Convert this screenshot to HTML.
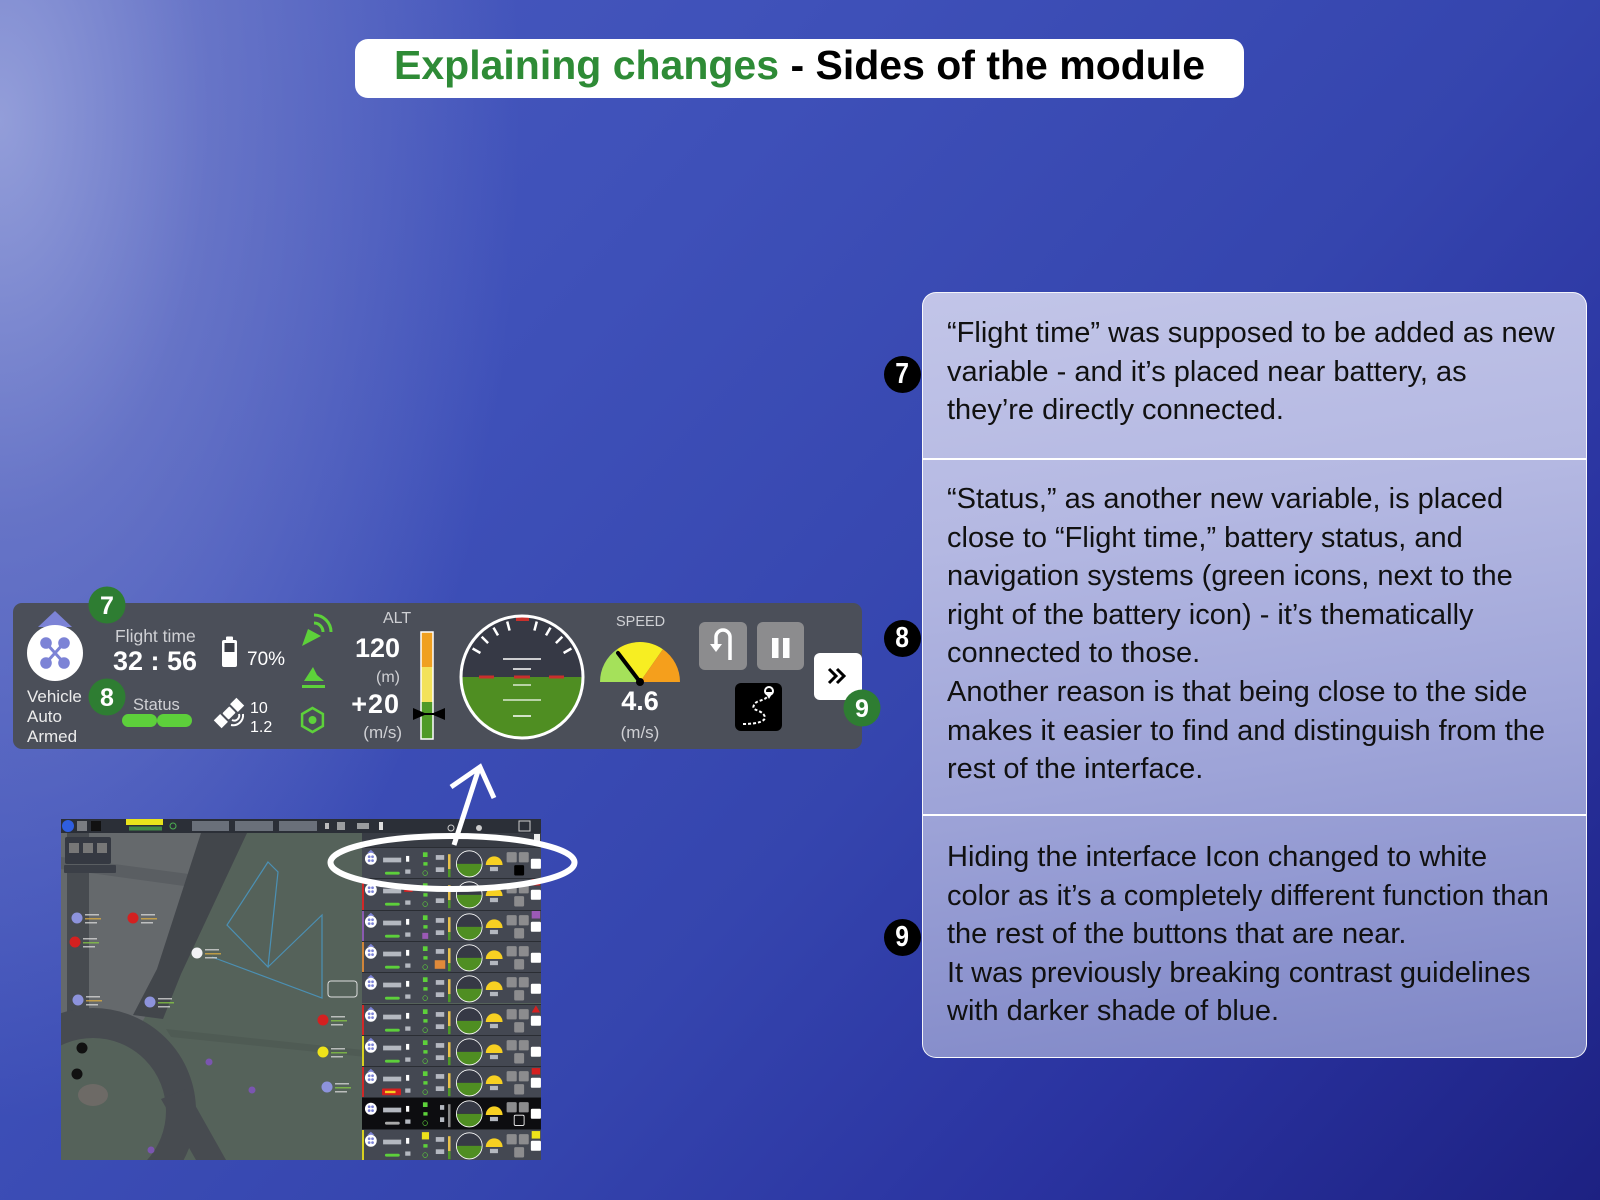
<!DOCTYPE html>
<html><head><meta charset="utf-8">
<style>
*{margin:0;padding:0;box-sizing:border-box}
html,body{width:1600px;height:1200px;overflow:hidden}
body{position:relative;font-family:"Liberation Sans",Arial,sans-serif;
background:
radial-gradient(ellipse 520px 1000px at 0px 120px, rgba(155,165,220,0.9) 0%, rgba(125,136,206,0.6) 40%, rgba(80,95,190,0) 100%),
linear-gradient(132deg,#4a5bbf 0%,#3f51b9 30%,#3545ae 58%,#2a33a0 78%,#1d2182 100%);}
.title{position:absolute;left:355px;top:39px;width:889px;height:59px;background:#fff;border-radius:13px}
.title div{position:absolute;left:39px;top:6px;font-size:41px;line-height:41px;font-weight:bold;white-space:nowrap;color:#000}
.title .g{color:#2e8b36}
.panel{position:absolute;left:922px;top:292px;width:665px;height:766px;border-radius:14px;border:1.5px solid rgba(255,255,255,.9);
background:linear-gradient(172deg,#c2c5e8 0%,#b4b8e2 30%,#9ea4d8 60%,#7e86c6 100%);overflow:hidden}
.div{position:absolute;left:0;width:100%;height:2px;background:#fff}
.txt{position:absolute;left:947px;font-size:29px;line-height:38.6px;color:#111;white-space:pre}
.bb{position:absolute;width:37px;height:37px;border-radius:50%;background:#000;color:#fff;font-weight:bold;font-size:29px;line-height:37px;text-align:center}
.bb span{display:inline-block;transform:scaleX(.85)}
.dash{position:absolute;left:13px;top:603px;overflow:visible}
.map{position:absolute;left:61px;top:819px;width:480px;height:341px;overflow:hidden}
.row{position:absolute;left:301px;width:179px;height:31.3px;overflow:hidden;border-top:1px solid #2a2d33}
.row .m{position:absolute;left:0;top:0;width:849px;height:146px;transform:scale(0.2108,0.2144);transform-origin:0 0}
.row .s{position:absolute;left:0;top:0;width:2px;height:100%}
.row rect[fill="#eee"],.row rect[fill="#ddd"]{fill:#b4b8c0}
</style></head>
<body>

<div class="title"><div><span class="g">Explaining changes</span> - Sides of the module</div></div>

<div class="panel">
  <div class="div" style="top:165px"></div>
  <div class="div" style="top:521px"></div>
</div>

<div class="txt" style="top:314px">“Flight time” was supposed to be added as new
variable - and it’s placed near battery, as
they’re directly connected.</div>

<div class="txt" style="top:480px">“Status,” as another new variable, is placed
close to “Flight time,” battery status, and
navigation systems (green icons, next to the
right of the battery icon) - it’s thematically
connected to those.
Another reason is that being close to the side
makes it easier to find and distinguish from the
rest of the interface.</div>

<div class="txt" style="top:838px">Hiding the interface Icon changed to white
color as it’s a completely different function than
the rest of the buttons that are near.
It was previously breaking contrast guidelines
with darker shade of blue.</div>

<div class="bb" style="left:883.5px;top:356px"><span>7</span></div>
<div class="bb" style="left:883.5px;top:619.5px"><span>8</span></div>
<div class="bb" style="left:883.5px;top:919px"><span>9</span></div>

<!-- MAIN DASHBOARD -->
<svg class="dash" width="849" height="146" viewBox="0 0 849 146" overflow="visible">
<rect width="849" height="146" rx="9" fill="#4b4f59"/>
<polygon points="42,8 25,24 59,24" fill="#7c83d6"/>
<circle cx="42" cy="50" r="28" fill="#fff"/>
<path d="M33,40L51,60M51,40L33,60" stroke="#7c83d6" stroke-width="3"/>
<g fill="#7c83d6"><circle cx="33" cy="40" r="5.8"/><circle cx="51" cy="40" r="5.8"/><circle cx="33" cy="60" r="5.8"/><circle cx="51" cy="60" r="5.8"/></g>
<g font-family="Liberation Sans, Arial, sans-serif">
<text x="14" y="99" font-size="17" fill="#ececec">Vehicle</text>
<text x="14" y="119" font-size="17" fill="#ececec">Auto</text>
<text x="14" y="139" font-size="17" fill="#ececec">Armed</text>
<text x="102" y="39" font-size="17.5" fill="#cfd0d4">Flight time</text>
<text x="100" y="67" font-size="27" font-weight="bold" fill="#fff">32 : 56</text>
<text x="234" y="62" font-size="19" fill="#fff">70%</text>
<text x="120" y="107" font-size="16.5" fill="#cfd0d4">Status</text>
<text x="237" y="110" font-size="16" fill="#fff">10</text>
<text x="237" y="129" font-size="16" fill="#fff">1.2</text>
<text x="370" y="20" font-size="16" fill="#cfd0d4">ALT</text>
<text x="387" y="54" text-anchor="end" font-size="27" font-weight="bold" fill="#fff">120</text>
<text x="387" y="79" text-anchor="end" font-size="16" fill="#cfd0d4">(m)</text>
<text x="387" y="110" text-anchor="end" font-size="27" font-weight="bold" fill="#fff" letter-spacing="1">+20</text>
<text x="389" y="135" text-anchor="end" font-size="17" fill="#cfd0d4">(m/s)</text>
<text x="603" y="23" font-size="14.5" fill="#cfd0d4">SPEED</text>
<text x="627" y="107" text-anchor="middle" font-size="27" font-weight="bold" fill="#fff">4.6</text>
<text x="627" y="135" text-anchor="middle" font-size="17" fill="#cfd0d4">(m/s)</text>
</g>
<rect x="109" y="111" width="35" height="13" rx="6.5" fill="#5dcf3b"/><rect x="144" y="111" width="35" height="13" rx="6.5" fill="#5dcf3b"/>
<rect x="209" y="37" width="15" height="27" rx="2" fill="#fff"/><rect x="211.5" y="40" width="10" height="9" fill="#3a3d46"/><rect x="213" y="33.5" width="7" height="4" rx="1" fill="#fff"/>
<g transform="translate(216,110) rotate(45)" fill="#fff"><rect x="-4.5" y="-5" width="9" height="10" rx="1"/><rect x="-5.5" y="-16" width="11" height="9"/><rect x="-5.5" y="7" width="11" height="9"/></g>
<path d="M219,117 a5,5 0 0 0 7,-6 M218,122 a10,10 0 0 0 12,-11" stroke="#fff" stroke-width="2" fill="none"/>
<polygon points="289,43 295,26 308,33" fill="#5dd13a"/>
<path d="M301,20 a9,9 0 0 1 9,9 M301,12 a17,17 0 0 1 17,17" stroke="#5dd13a" stroke-width="3" fill="none"/>
<polygon points="291,78 300,64 304,72 311,78" fill="#5dd13a"/><rect x="289" y="82" width="23" height="3" fill="#5dd13a"/>
<polygon points="299.5,105 309.9,111 309.9,123 299.5,129 289.1,123 289.1,111" fill="none" stroke="#5dd13a" stroke-width="2.5"/><circle cx="299.5" cy="117" r="4" fill="#5dd13a"/>
<rect x="408" y="29" width="12" height="35" fill="#f0a020"/><rect x="408" y="64" width="12" height="35" fill="#f3e25a"/><rect x="408" y="99" width="12" height="37" fill="#4f9a27"/>
<rect x="408" y="29" width="12" height="107" fill="none" stroke="#fff" stroke-width="1.5"/>
<polygon points="400,105 414,111 400,117" fill="#000"/><polygon points="432,105 418,111 432,117" fill="#000"/><rect x="400" y="110" width="32" height="2" fill="#000"/>
<path d="M448,74 A61,61 0 0 1 570,74 Z" fill="#363945"/><path d="M448,74 A61,61 0 0 0 570,74 Z" fill="#4f8e22"/>
<g stroke="#fff" stroke-width="1.6"><line x1="490" y1="56" x2="528" y2="56"/><line x1="500" y1="66" x2="518" y2="66"/><line x1="500" y1="82" x2="518" y2="82" stroke-opacity=".8"/><line x1="490" y1="97" x2="528" y2="97" stroke-opacity=".8"/><line x1="500" y1="113" x2="518" y2="113"/></g>
<g stroke="#fff" stroke-width="2.5"><line x1="521.4" y1="27.6" x2="523.8" y2="18.5"/><line x1="496.6" y1="27.6" x2="494.2" y2="18.5"/><line x1="533" y1="32.4" x2="537.5" y2="24.6"/><line x1="485" y1="32.4" x2="480.5" y2="24.6"/><line x1="542.9" y1="40.1" x2="549.3" y2="33.7"/><line x1="475.1" y1="40.1" x2="468.7" y2="33.7"/><line x1="550.6" y1="50" x2="558.4" y2="45.5"/><line x1="467.4" y1="50" x2="459.6" y2="45.5"/></g>
<g fill="#c9302c"><rect x="466" y="72.5" width="15" height="3"/><rect x="501" y="72.5" width="16" height="3"/><rect x="536" y="72.5" width="15" height="3"/><rect x="503" y="14" width="13" height="4"/></g>
<circle cx="509" cy="74" r="61" fill="none" stroke="#fff" stroke-width="3"/>
<path d="M627,79 L587,79 A40,40 0 0 1 604.1,46.2 Z" fill="#a5e15a"/>
<path d="M627,79 L604.1,46.2 A40,40 0 0 1 649.9,46.2 Z" fill="#f7ee22"/>
<path d="M627,79 L649.9,46.2 A40,40 0 0 1 667,79 Z" fill="#f59f1c"/>
<line x1="627" y1="79" x2="605" y2="50" stroke="#000" stroke-width="4" stroke-linecap="round"/><circle cx="627" cy="79" r="4" fill="#000"/>
<rect x="686" y="19" width="48" height="48" rx="6" fill="#8c8c8e"/>
<path d="M717,57 L717,34 A7,7 0 0 0 703,34 L703,43" stroke="#fff" stroke-width="3.5" fill="none"/><polygon points="697,41 709,41 703,49" fill="#fff"/>
<rect x="744" y="19" width="47" height="48" rx="6" fill="#8c8c8e"/>
<rect x="759" y="35" width="6.5" height="20" fill="#fff"/><rect x="770" y="35" width="6.5" height="20" fill="#fff"/>
<rect x="722" y="80" width="47" height="48" rx="6" fill="#000"/>
<path d="M730,121 C745,121 755,118 751,112 C747,106 738,108 741,102 C743,97 751,98 754,94" stroke="#fff" stroke-width="2" stroke-dasharray="3,2" fill="none"/>
<circle cx="756" cy="88" r="4" fill="none" stroke="#fff" stroke-width="2"/><polygon points="752,89 760,89 756,96" fill="#fff"/>
<rect x="801" y="50" width="48" height="47" rx="6" fill="#fff"/>
<path d="M816,66 L823,73 L816,80 M824,66 L831,73 L824,80" stroke="#000" stroke-width="3" fill="none"/>
<g font-family="Liberation Sans, Arial, sans-serif" font-weight="bold" font-size="25" fill="#fff" text-anchor="middle">
<circle cx="94" cy="2" r="18.5" fill="#2e7d32"/><text x="94" y="11">7</text>
<circle cx="94" cy="94" r="18.5" fill="#2e7d32"/><text x="94" y="103">8</text>
<circle cx="849" cy="105" r="18.5" fill="#2e7d32"/><text x="849" y="114">9</text>
</g>
</svg>

<!-- MAP SCREENSHOT -->
<div class="map">
<svg width="480" height="341" style="position:absolute;left:0;top:0">
<rect width="480" height="341" fill="#55625a"/>
<polygon points="0,14 180,14 140,80 100,170 80,205 0,210" fill="#65696c"/>
<rect x="6" y="14" width="22" height="190" fill="#474b50"/>
<polygon points="0,38 150,58 145,70 0,50" fill="#5a5e62"/>
<polygon points="140,14 186,14 120,155 102,200 72,196 96,150" fill="#42464b"/>
<circle cx="32" cy="292" r="88" fill="none" stroke="#474b50" stroke-width="30"/>
<ellipse cx="32" cy="276" rx="15" ry="11" fill="#6d6a66"/>
<polygon points="100,280 125,270 165,341 135,341" fill="#474b50"/>
<polygon points="105,210 480,250 480,256 110,218" fill="#4f5b54"/>
<g fill="none" stroke="#4b90b4" stroke-width="1.2">
<polygon points="207,43 217,53 207,148 166,106"/>
<polyline points="207,148 261,96 261,179 151,138"/>
</g>
<circle cx="16" cy="99" r="5.5" fill="#8d93dc"/><circle cx="72" cy="99" r="5.5" fill="#d42020"/><circle cx="14" cy="123" r="5.5" fill="#d42020"/>
<circle cx="136" cy="134" r="5.5" fill="#f2f2f5"/><circle cx="17" cy="181" r="5.5" fill="#8d93dc"/><circle cx="89" cy="183" r="5.5" fill="#8d93dc"/>
<circle cx="21" cy="229" r="5.5" fill="#111"/><circle cx="16" cy="255" r="5.5" fill="#111"/><circle cx="262" cy="201" r="5.5" fill="#d42020"/>
<circle cx="262" cy="233" r="5.5" fill="#eee31a"/><circle cx="266" cy="268" r="5.5" fill="#8d93dc"/>
<g fill="#ddd" opacity=".75">
<rect x="24" y="95" width="14" height="1.5"/><rect x="24" y="99" width="16" height="1.5" fill="#e0b040"/><rect x="24" y="103" width="12" height="1.5"/>
<rect x="80" y="95" width="14" height="1.5"/><rect x="80" y="99" width="16" height="1.5" fill="#e0b040"/><rect x="80" y="103" width="12" height="1.5"/>
<rect x="22" y="119" width="14" height="1.5"/><rect x="22" y="123" width="16" height="1.5" fill="#8c4"/><rect x="22" y="127" width="12" height="1.5"/>
<rect x="144" y="130" width="14" height="1.5"/><rect x="144" y="134" width="16" height="1.5" fill="#e0b040"/><rect x="144" y="138" width="12" height="1.5"/>
<rect x="25" y="177" width="14" height="1.5"/><rect x="25" y="181" width="16" height="1.5" fill="#e0b040"/><rect x="25" y="185" width="12" height="1.5"/>
<rect x="97" y="179" width="14" height="1.5"/><rect x="97" y="183" width="16" height="1.5" fill="#8c4"/><rect x="97" y="187" width="12" height="1.5"/>
<rect x="270" y="197" width="14" height="1.5"/><rect x="270" y="201" width="16" height="1.5" fill="#8c4"/><rect x="270" y="205" width="12" height="1.5"/>
<rect x="270" y="229" width="14" height="1.5"/><rect x="270" y="233" width="16" height="1.5" fill="#8c4"/><rect x="270" y="237" width="12" height="1.5"/>
<rect x="274" y="264" width="14" height="1.5"/><rect x="274" y="268" width="16" height="1.5" fill="#8c4"/><rect x="274" y="272" width="12" height="1.5"/>
</g>
<rect x="267" y="162" width="29" height="16" rx="3" fill="none" stroke="#ddd" stroke-width="1"/>
<circle cx="148" cy="243" r="3.5" fill="#7a55b0"/><circle cx="90" cy="331" r="3.5" fill="#7a55b0"/><circle cx="191" cy="271" r="3.5" fill="#7a55b0"/>
<rect width="480" height="14" fill="#2b2f37"/>
<circle cx="7" cy="7" r="6" fill="#2f5ee0"/>
<rect x="16" y="2" width="10" height="10" fill="#7a7d82"/>
<rect x="30" y="2" width="10" height="10" fill="#111"/>
<rect x="65" y="0" width="37" height="6" fill="#e9e41c"/>
<rect x="68" y="7.5" width="33" height="4" fill="#4caf50" opacity=".7"/>
<circle cx="112" cy="7" r="3" stroke="#4caf50" fill="none"/>
<rect x="131" y="2" width="37" height="10" fill="#6a707a"/>
<rect x="174" y="2" width="38" height="10" fill="#6a707a"/>
<rect x="218" y="2" width="38" height="10" fill="#6a707a"/>
<rect x="264" y="4" width="4" height="6" fill="#bbb"/><rect x="276" y="3" width="8" height="8" fill="#ccc" opacity=".7"/>
<rect x="296" y="4" width="12" height="6" fill="#ccc" opacity=".7"/><rect x="318" y="3" width="4" height="8" fill="#ddd"/>
<circle cx="390" cy="9" r="3" fill="none" stroke="#ccc"/><circle cx="418" cy="9" r="3" fill="#ccc"/>
<rect x="458" y="2" width="11" height="10" fill="none" stroke="#ccc"/>
<rect x="4" y="18" width="46" height="27" rx="2" fill="#353942"/>
<rect x="8" y="24" width="10" height="10" fill="#777"/><rect x="22" y="24" width="10" height="10" fill="#777"/><rect x="36" y="24" width="10" height="10" fill="#777"/>
<rect x="3" y="46" width="52" height="8" rx="1" fill="#3b3f47"/>
<rect x="301" y="14" width="179" height="14" fill="#383c44"/>
<rect x="473" y="15" width="6" height="11" fill="#eee"/>
</svg>
<div class="row" style="top:28px"><svg class="m" viewBox="0 0 849 146"><rect width="849" height="146" fill="#444852"/><polygon points="42,8 25,24 59,24" fill="#7c83d6"/><circle cx="42" cy="50" r="28" fill="#fff"/><g fill="#7c83d6"><circle cx="34" cy="41" r="6.5"/><circle cx="50" cy="41" r="6.5"/><circle cx="34" cy="59" r="6.5"/><circle cx="50" cy="59" r="6.5"/></g><rect x="100" y="45" width="86" height="22" fill="#ddd"/><rect x="109" y="111" width="70" height="13" rx="6.5" fill="#5dcf3b"/><rect x="209" y="37" width="15" height="27" fill="#fff"/><rect x="205" y="100" width="25" height="20" fill="#eee"/><rect x="289" y="20" width="22" height="22" fill="#5dd13a"/><rect x="291" y="66" width="20" height="16" fill="#5dd13a"/><circle cx="299.5" cy="117" r="11" fill="none" stroke="#5dd13a" stroke-width="3"/><rect x="350" y="33" width="40" height="22" fill="#eee"/><rect x="350" y="90" width="40" height="22" fill="#eee"/><rect x="408" y="29" width="12" height="70" fill="#e8c24a"/><rect x="408" y="99" width="12" height="37" fill="#4f9a27"/><path d="M448,74 A61,61 0 0 1 570,74 Z" fill="#363945"/><path d="M448,74 A61,61 0 0 0 570,74 Z" fill="#4f8e22"/><circle cx="509" cy="74" r="61" fill="none" stroke="#fff" stroke-width="4"/><path d="M587,79 A40,40 0 0 1 667,79 Z" fill="#f7d022"/><rect x="607" y="88" width="38" height="20" fill="#eee"/><rect x="686" y="19" width="48" height="48" rx="6" fill="#8c8c8e"/><rect x="744" y="19" width="47" height="48" rx="6" fill="#8c8c8e"/><rect x="722" y="80" width="47" height="48" rx="6" fill="#000"/><rect x="801" y="50" width="48" height="47" rx="6" fill="#fff"/></svg></div>
<div class="row" style="top:59.3px"><svg class="m" viewBox="0 0 849 146"><rect width="849" height="146" fill="#444852"/><polygon points="42,8 25,24 59,24" fill="#7c83d6"/><circle cx="42" cy="50" r="28" fill="#fff"/><g fill="#7c83d6"><circle cx="34" cy="41" r="6.5"/><circle cx="50" cy="41" r="6.5"/><circle cx="34" cy="59" r="6.5"/><circle cx="50" cy="59" r="6.5"/></g><rect x="100" y="45" width="86" height="22" fill="#ddd"/><rect x="109" y="111" width="70" height="13" rx="6.5" fill="#5dcf3b"/><rect x="200" y="30" width="40" height="30" fill="#d42020"/><rect x="205" y="100" width="25" height="20" fill="#eee"/><rect x="289" y="20" width="22" height="22" fill="#5dd13a"/><rect x="291" y="66" width="20" height="16" fill="#5dd13a"/><circle cx="299.5" cy="117" r="11" fill="none" stroke="#5dd13a" stroke-width="3"/><rect x="350" y="90" width="40" height="22" fill="#eee"/><rect x="408" y="29" width="12" height="70" fill="#e8c24a"/><rect x="408" y="99" width="12" height="37" fill="#4f9a27"/><path d="M448,74 A61,61 0 0 1 570,74 Z" fill="#363945"/><path d="M448,74 A61,61 0 0 0 570,74 Z" fill="#4f8e22"/><circle cx="509" cy="74" r="61" fill="none" stroke="#fff" stroke-width="4"/><path d="M587,79 A40,40 0 0 1 667,79 Z" fill="#f7d022"/><rect x="607" y="88" width="38" height="20" fill="#eee"/><rect x="686" y="19" width="48" height="48" rx="6" fill="#8c8c8e"/><rect x="744" y="19" width="47" height="48" rx="6" fill="#8c8c8e"/><rect x="722" y="80" width="47" height="48" rx="6" fill="#8c8c8e"/><rect x="801" y="50" width="48" height="47" rx="6" fill="#fff"/><rect x="805" y="0" width="40" height="30" fill="#d42020"/></svg><div class="s" style="background:#d02828"></div></div>
<div class="row" style="top:90.6px"><svg class="m" viewBox="0 0 849 146"><rect width="849" height="146" fill="#444852"/><polygon points="42,8 25,24 59,24" fill="#7c83d6"/><circle cx="42" cy="50" r="28" fill="#fff"/><g fill="#7c83d6"><circle cx="34" cy="41" r="6.5"/><circle cx="50" cy="41" r="6.5"/><circle cx="34" cy="59" r="6.5"/><circle cx="50" cy="59" r="6.5"/></g><rect x="100" y="45" width="86" height="22" fill="#ddd"/><rect x="109" y="111" width="70" height="13" rx="6.5" fill="#5dcf3b"/><rect x="209" y="37" width="15" height="27" fill="#fff"/><rect x="205" y="100" width="25" height="20" fill="#eee"/><rect x="289" y="20" width="22" height="22" fill="#5dd13a"/><rect x="291" y="66" width="20" height="16" fill="#5dd13a"/><rect x="286" y="102" width="28" height="28" fill="#9b59b6"/><rect x="350" y="33" width="40" height="22" fill="#eee"/><rect x="350" y="90" width="40" height="22" fill="#eee"/><rect x="408" y="29" width="12" height="70" fill="#e8c24a"/><rect x="408" y="99" width="12" height="37" fill="#4f9a27"/><path d="M448,74 A61,61 0 0 1 570,74 Z" fill="#363945"/><path d="M448,74 A61,61 0 0 0 570,74 Z" fill="#4f8e22"/><circle cx="509" cy="74" r="61" fill="none" stroke="#fff" stroke-width="4"/><path d="M587,79 A40,40 0 0 1 667,79 Z" fill="#f7d022"/><rect x="607" y="88" width="38" height="20" fill="#eee"/><rect x="686" y="19" width="48" height="48" rx="6" fill="#8c8c8e"/><rect x="744" y="19" width="47" height="48" rx="6" fill="#8c8c8e"/><rect x="722" y="80" width="47" height="48" rx="6" fill="#8c8c8e"/><rect x="801" y="50" width="48" height="47" rx="6" fill="#fff"/><rect x="805" y="0" width="40" height="35" fill="#9b59b6"/></svg><div class="s" style="background:#8a5ab0"></div></div>
<div class="row" style="top:121.9px"><svg class="m" viewBox="0 0 849 146"><rect width="849" height="146" fill="#444852"/><polygon points="42,8 25,24 59,24" fill="#7c83d6"/><circle cx="42" cy="50" r="28" fill="#fff"/><g fill="#7c83d6"><circle cx="34" cy="41" r="6.5"/><circle cx="50" cy="41" r="6.5"/><circle cx="34" cy="59" r="6.5"/><circle cx="50" cy="59" r="6.5"/></g><rect x="100" y="45" width="86" height="22" fill="#ddd"/><rect x="109" y="111" width="70" height="13" rx="6.5" fill="#5dcf3b"/><rect x="209" y="37" width="15" height="27" fill="#fff"/><rect x="205" y="100" width="25" height="20" fill="#eee"/><rect x="289" y="20" width="22" height="22" fill="#5dd13a"/><rect x="291" y="66" width="20" height="16" fill="#5dd13a"/><circle cx="299.5" cy="117" r="11" fill="none" stroke="#5dd13a" stroke-width="3"/><rect x="350" y="33" width="40" height="22" fill="#eee"/><rect x="345" y="85" width="50" height="40" fill="#e08a3a"/><rect x="408" y="29" width="12" height="70" fill="#e8c24a"/><rect x="408" y="99" width="12" height="37" fill="#4f9a27"/><path d="M448,74 A61,61 0 0 1 570,74 Z" fill="#363945"/><path d="M448,74 A61,61 0 0 0 570,74 Z" fill="#4f8e22"/><circle cx="509" cy="74" r="61" fill="none" stroke="#fff" stroke-width="4"/><path d="M587,79 A40,40 0 0 1 667,79 Z" fill="#f7d022"/><rect x="607" y="88" width="38" height="20" fill="#eee"/><rect x="686" y="19" width="48" height="48" rx="6" fill="#8c8c8e"/><rect x="744" y="19" width="47" height="48" rx="6" fill="#8c8c8e"/><rect x="722" y="80" width="47" height="48" rx="6" fill="#8c8c8e"/><rect x="801" y="50" width="48" height="47" rx="6" fill="#fff"/></svg><div class="s" style="background:#d0843a"></div></div>
<div class="row" style="top:153.2px"><svg class="m" viewBox="0 0 849 146"><rect width="849" height="146" fill="#444852"/><polygon points="42,8 25,24 59,24" fill="#7c83d6"/><circle cx="42" cy="50" r="28" fill="#fff"/><g fill="#7c83d6"><circle cx="34" cy="41" r="6.5"/><circle cx="50" cy="41" r="6.5"/><circle cx="34" cy="59" r="6.5"/><circle cx="50" cy="59" r="6.5"/></g><rect x="100" y="45" width="86" height="22" fill="#ddd"/><rect x="109" y="111" width="70" height="13" rx="6.5" fill="#5dcf3b"/><rect x="209" y="37" width="15" height="27" fill="#fff"/><rect x="205" y="100" width="25" height="20" fill="#eee"/><rect x="289" y="20" width="22" height="22" fill="#5dd13a"/><rect x="291" y="66" width="20" height="16" fill="#5dd13a"/><circle cx="299.5" cy="117" r="11" fill="none" stroke="#5dd13a" stroke-width="3"/><rect x="350" y="33" width="40" height="22" fill="#eee"/><rect x="350" y="90" width="40" height="22" fill="#eee"/><rect x="408" y="29" width="12" height="70" fill="#e8c24a"/><rect x="408" y="99" width="12" height="37" fill="#4f9a27"/><path d="M448,74 A61,61 0 0 1 570,74 Z" fill="#363945"/><path d="M448,74 A61,61 0 0 0 570,74 Z" fill="#4f8e22"/><circle cx="509" cy="74" r="61" fill="none" stroke="#fff" stroke-width="4"/><path d="M587,79 A40,40 0 0 1 667,79 Z" fill="#f7d022"/><rect x="607" y="88" width="38" height="20" fill="#eee"/><rect x="686" y="19" width="48" height="48" rx="6" fill="#8c8c8e"/><rect x="744" y="19" width="47" height="48" rx="6" fill="#8c8c8e"/><rect x="722" y="80" width="47" height="48" rx="6" fill="#8c8c8e"/><rect x="801" y="50" width="48" height="47" rx="6" fill="#fff"/></svg></div>
<div class="row" style="top:184.5px"><svg class="m" viewBox="0 0 849 146"><rect width="849" height="146" fill="#444852"/><polygon points="42,8 25,24 59,24" fill="#7c83d6"/><circle cx="42" cy="50" r="28" fill="#fff"/><g fill="#7c83d6"><circle cx="34" cy="41" r="6.5"/><circle cx="50" cy="41" r="6.5"/><circle cx="34" cy="59" r="6.5"/><circle cx="50" cy="59" r="6.5"/></g><rect x="100" y="45" width="86" height="22" fill="#ddd"/><rect x="109" y="111" width="70" height="13" rx="6.5" fill="#5dcf3b"/><rect x="209" y="37" width="15" height="27" fill="#fff"/><rect x="205" y="100" width="25" height="20" fill="#eee"/><rect x="289" y="20" width="22" height="22" fill="#5dd13a"/><rect x="291" y="66" width="20" height="16" fill="#5dd13a"/><circle cx="299.5" cy="117" r="11" fill="none" stroke="#5dd13a" stroke-width="3"/><rect x="350" y="33" width="40" height="22" fill="#eee"/><rect x="350" y="90" width="40" height="22" fill="#eee"/><rect x="408" y="29" width="12" height="70" fill="#e8c24a"/><rect x="408" y="99" width="12" height="37" fill="#4f9a27"/><path d="M448,74 A61,61 0 0 1 570,74 Z" fill="#363945"/><path d="M448,74 A61,61 0 0 0 570,74 Z" fill="#4f8e22"/><circle cx="509" cy="74" r="61" fill="none" stroke="#fff" stroke-width="4"/><path d="M587,79 A40,40 0 0 1 667,79 Z" fill="#f7d022"/><rect x="607" y="88" width="38" height="20" fill="#eee"/><rect x="686" y="19" width="48" height="48" rx="6" fill="#8c8c8e"/><rect x="744" y="19" width="47" height="48" rx="6" fill="#8c8c8e"/><rect x="722" y="80" width="47" height="48" rx="6" fill="#8c8c8e"/><rect x="801" y="50" width="48" height="47" rx="6" fill="#fff"/><polygon points="825,2 845,35 805,35" fill="#d42020"/></svg><div class="s" style="background:#d02828"></div></div>
<div class="row" style="top:215.8px"><svg class="m" viewBox="0 0 849 146"><rect width="849" height="146" fill="#444852"/><polygon points="42,8 25,24 59,24" fill="#7c83d6"/><circle cx="42" cy="50" r="28" fill="#fff"/><g fill="#7c83d6"><circle cx="34" cy="41" r="6.5"/><circle cx="50" cy="41" r="6.5"/><circle cx="34" cy="59" r="6.5"/><circle cx="50" cy="59" r="6.5"/></g><rect x="100" y="45" width="86" height="22" fill="#ddd"/><rect x="109" y="111" width="70" height="13" rx="6.5" fill="#5dcf3b"/><rect x="209" y="37" width="15" height="27" fill="#fff"/><rect x="205" y="100" width="25" height="20" fill="#eee"/><rect x="289" y="20" width="22" height="22" fill="#5dd13a"/><rect x="291" y="66" width="20" height="16" fill="#5dd13a"/><circle cx="299.5" cy="117" r="11" fill="none" stroke="#5dd13a" stroke-width="3"/><rect x="350" y="33" width="40" height="22" fill="#eee"/><rect x="350" y="90" width="40" height="22" fill="#eee"/><rect x="408" y="29" width="12" height="70" fill="#e8c24a"/><rect x="408" y="99" width="12" height="37" fill="#4f9a27"/><path d="M448,74 A61,61 0 0 1 570,74 Z" fill="#363945"/><path d="M448,74 A61,61 0 0 0 570,74 Z" fill="#4f8e22"/><circle cx="509" cy="74" r="61" fill="none" stroke="#fff" stroke-width="4"/><path d="M587,79 A40,40 0 0 1 667,79 Z" fill="#f7d022"/><rect x="607" y="88" width="38" height="20" fill="#eee"/><rect x="686" y="19" width="48" height="48" rx="6" fill="#8c8c8e"/><rect x="744" y="19" width="47" height="48" rx="6" fill="#8c8c8e"/><rect x="722" y="80" width="47" height="48" rx="6" fill="#8c8c8e"/><rect x="801" y="50" width="48" height="47" rx="6" fill="#fff"/></svg><div class="s" style="background:#d8d020"></div></div>
<div class="row" style="top:247.1px"><svg class="m" viewBox="0 0 849 146"><rect width="849" height="146" fill="#444852"/><polygon points="42,8 25,24 59,24" fill="#7c83d6"/><circle cx="42" cy="50" r="28" fill="#fff"/><g fill="#7c83d6"><circle cx="34" cy="41" r="6.5"/><circle cx="50" cy="41" r="6.5"/><circle cx="34" cy="59" r="6.5"/><circle cx="50" cy="59" r="6.5"/></g><rect x="100" y="45" width="86" height="22" fill="#ddd"/><rect x="95" y="100" width="90" height="32" rx="4" fill="#d42020"/><rect x="109" y="111" width="50" height="11" fill="#f5d020"/><rect x="209" y="37" width="15" height="27" fill="#fff"/><rect x="205" y="100" width="25" height="20" fill="#eee"/><rect x="289" y="20" width="22" height="22" fill="#5dd13a"/><rect x="291" y="66" width="20" height="16" fill="#5dd13a"/><circle cx="299.5" cy="117" r="11" fill="none" stroke="#5dd13a" stroke-width="3"/><rect x="350" y="33" width="40" height="22" fill="#eee"/><rect x="350" y="90" width="40" height="22" fill="#eee"/><rect x="408" y="29" width="12" height="70" fill="#e8c24a"/><rect x="408" y="99" width="12" height="37" fill="#4f9a27"/><path d="M448,74 A61,61 0 0 1 570,74 Z" fill="#363945"/><path d="M448,74 A61,61 0 0 0 570,74 Z" fill="#4f8e22"/><circle cx="509" cy="74" r="61" fill="none" stroke="#fff" stroke-width="4"/><path d="M587,79 A40,40 0 0 1 667,79 Z" fill="#f7d022"/><rect x="607" y="88" width="38" height="20" fill="#eee"/><rect x="686" y="19" width="48" height="48" rx="6" fill="#8c8c8e"/><rect x="744" y="19" width="47" height="48" rx="6" fill="#8c8c8e"/><rect x="722" y="80" width="47" height="48" rx="6" fill="#8c8c8e"/><rect x="801" y="50" width="48" height="47" rx="6" fill="#fff"/><rect x="805" y="5" width="40" height="30" fill="#d42020"/></svg><div class="s" style="background:#d02828"></div></div>
<div class="row" style="top:278.4px"><svg class="m" viewBox="0 0 849 146"><rect width="849" height="146" fill="#0d0d10"/><circle cx="42" cy="50" r="28" fill="#fff"/><g fill="#7c83d6"><circle cx="34" cy="41" r="6.5"/><circle cx="50" cy="41" r="6.5"/><circle cx="34" cy="59" r="6.5"/><circle cx="50" cy="59" r="6.5"/></g><rect x="100" y="45" width="86" height="22" fill="#ddd"/><rect x="109" y="111" width="70" height="13" rx="6.5" fill="#aaa"/><rect x="209" y="37" width="15" height="27" fill="#fff"/><rect x="205" y="100" width="25" height="20" fill="#eee"/><rect x="289" y="20" width="22" height="22" fill="#5dd13a"/><rect x="291" y="66" width="20" height="16" fill="#5dd13a"/><circle cx="299.5" cy="117" r="11" fill="none" stroke="#5dd13a" stroke-width="3"/><rect x="370" y="33" width="20" height="22" fill="#eee"/><rect x="370" y="90" width="20" height="22" fill="#eee"/><rect x="408" y="29" width="12" height="107" fill="#888"/><path d="M448,74 A61,61 0 0 1 570,74 Z" fill="#363945"/><path d="M448,74 A61,61 0 0 0 570,74 Z" fill="#4f8e22"/><circle cx="509" cy="74" r="61" fill="none" stroke="#fff" stroke-width="4"/><path d="M587,79 A40,40 0 0 1 667,79 Z" fill="#f7d022"/><rect x="607" y="88" width="38" height="20" fill="#eee"/><rect x="686" y="19" width="48" height="48" rx="6" fill="#8c8c8e"/><rect x="744" y="19" width="47" height="48" rx="6" fill="#8c8c8e"/><rect x="722" y="80" width="47" height="48" rx="6" fill="none" stroke="#fff" stroke-width="4"/><rect x="801" y="50" width="48" height="47" rx="6" fill="#fff"/></svg></div>
<div class="row" style="top:309.7px"><svg class="m" viewBox="0 0 849 146"><rect width="849" height="146" fill="#444852"/><polygon points="42,8 25,24 59,24" fill="#7c83d6"/><circle cx="42" cy="50" r="28" fill="#fff"/><g fill="#7c83d6"><circle cx="34" cy="41" r="6.5"/><circle cx="50" cy="41" r="6.5"/><circle cx="34" cy="59" r="6.5"/><circle cx="50" cy="59" r="6.5"/></g><rect x="100" y="45" width="86" height="22" fill="#ddd"/><rect x="109" y="111" width="70" height="13" rx="6.5" fill="#5dcf3b"/><rect x="209" y="37" width="15" height="27" fill="#fff"/><rect x="205" y="100" width="25" height="20" fill="#eee"/><rect x="284" y="10" width="34" height="34" fill="#eee31a"/><rect x="291" y="66" width="20" height="16" fill="#5dd13a"/><circle cx="299.5" cy="117" r="11" fill="none" stroke="#5dd13a" stroke-width="3"/><rect x="350" y="33" width="40" height="22" fill="#eee"/><rect x="350" y="90" width="40" height="22" fill="#eee"/><rect x="408" y="29" width="12" height="70" fill="#e8c24a"/><rect x="408" y="99" width="12" height="37" fill="#4f9a27"/><path d="M448,74 A61,61 0 0 1 570,74 Z" fill="#363945"/><path d="M448,74 A61,61 0 0 0 570,74 Z" fill="#4f8e22"/><circle cx="509" cy="74" r="61" fill="none" stroke="#fff" stroke-width="4"/><path d="M587,79 A40,40 0 0 1 667,79 Z" fill="#f7d022"/><rect x="607" y="88" width="38" height="20" fill="#eee"/><rect x="686" y="19" width="48" height="48" rx="6" fill="#8c8c8e"/><rect x="744" y="19" width="47" height="48" rx="6" fill="#8c8c8e"/><rect x="722" y="80" width="47" height="48" rx="6" fill="#8c8c8e"/><rect x="801" y="50" width="48" height="47" rx="6" fill="#fff"/><rect x="805" y="5" width="40" height="35" fill="#eee31a"/></svg><div class="s" style="background:#d8d020"></div></div>
</div>

<!-- ellipse + arrow -->
<svg style="position:absolute;left:0;top:0" width="1600" height="1200">
<ellipse cx="452.5" cy="862.5" rx="122" ry="26.5" fill="none" stroke="#fff" stroke-width="6"/>
<line x1="454" y1="845" x2="479" y2="768" stroke="#fff" stroke-width="5"/>
<polyline points="451,787 480,767 494,798" fill="none" stroke="#fff" stroke-width="5"/>
</svg>

</body></html>
